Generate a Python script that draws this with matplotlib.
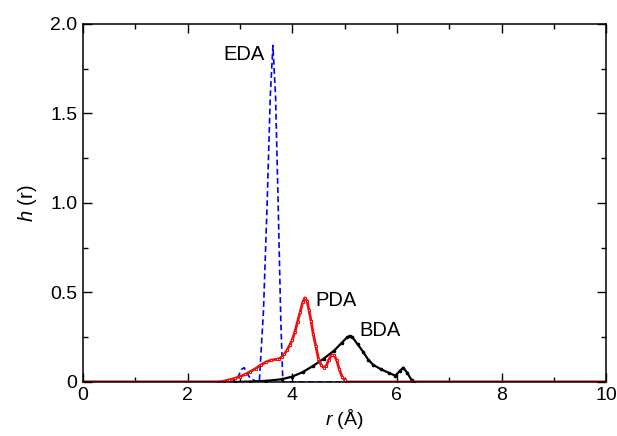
import matplotlib
matplotlib.use("Agg")
import matplotlib.pyplot as plt
from matplotlib.ticker import MultipleLocator, FixedLocator, FixedFormatter

plt.rcParams['font.family'] = ['Liberation Sans', 'DejaVu Sans']
plt.rcParams['mathtext.fontset'] = 'custom'
plt.rcParams['mathtext.it'] = 'Liberation Sans:italic'
plt.rcParams['mathtext.rm'] = 'Liberation Sans'

# h(r) curves for the three diamines
eda_r = [0.0, 2.85, 2.95, 3.03, 3.08, 3.13, 3.2, 3.3, 3.37, 3.45, 3.52, 3.58,
         3.63, 3.68, 3.73, 3.78, 3.82, 10.0]
eda_h = [0.0, 0.0, 0.02, 0.07, 0.08, 0.05, 0.02, 0.005, 0.0, 0.4, 1.0, 1.6,
         1.88, 1.6, 1.0, 0.35, 0.0, 0.0]

pda_r = [0.0, 2.6, 2.7, 2.8, 2.9, 3.0, 3.1, 3.2, 3.3, 3.4, 3.5, 3.6, 3.7, 3.75,
         3.8, 3.85, 3.9, 3.95, 4.0, 4.05, 4.1, 4.15, 4.2, 4.24, 4.28, 4.32,
         4.36, 4.4, 4.45, 4.5, 4.55, 4.6, 4.65, 4.7, 4.75, 4.8, 4.85, 4.9,
         4.95, 5.0, 5.05, 10.0]
pda_h = [0.0, 0.0, 0.005, 0.012, 0.02, 0.03, 0.042, 0.058, 0.075, 0.095, 0.112,
         0.122, 0.127, 0.13, 0.14, 0.155, 0.178, 0.205, 0.235, 0.28, 0.335,
         0.39, 0.445, 0.47, 0.455, 0.4, 0.34, 0.27, 0.2, 0.13, 0.095, 0.08,
         0.09, 0.125, 0.15, 0.15, 0.12, 0.07, 0.03, 0.01, 0.0, 0.0]

bda_r = [0.0, 2.9, 3.2, 3.5, 3.8, 4.0, 4.2, 4.4, 4.6, 4.8, 4.95, 5.05, 5.1,
         5.15, 5.25, 5.35, 5.45, 5.55, 5.7, 5.85, 5.97, 6.05, 6.12, 6.2, 6.28,
         6.32, 10.0]
bda_h = [0.0, 0.0, 0.002, 0.006, 0.015, 0.03, 0.055, 0.09, 0.13, 0.175, 0.22,
         0.25, 0.257, 0.25, 0.21, 0.17, 0.125, 0.095, 0.07, 0.05, 0.035, 0.06,
         0.08, 0.05, 0.01, 0.0, 0.0]

fig = plt.figure(figsize=(6.17, 4.36), dpi=100)
ax = fig.add_axes([0.1345, 0.124, 0.848, 0.821])

ax.plot(eda_r, eda_h, color='blue', linestyle=(0, (3.5, 2)), linewidth=1.2)
ax.plot(bda_r, bda_h, color='black', linewidth=1.6, marker='o',
        markersize=1.6)
ax.plot(pda_r, pda_h, color='#ee1111', linewidth=2.0, marker='s',
        markersize=2.0, markerfacecolor='white', markeredgewidth=0.7,
        markeredgecolor='red')

ax.text(3.48, 1.83, 'EDA', fontsize=14.5, ha='right', va='center')
ax.text(4.45, 0.455, 'PDA', fontsize=14.5, ha='left', va='center')
ax.text(5.28, 0.29, 'BDA', fontsize=14.5, ha='left', va='center')

ax.set_xlim(0, 10)
ax.set_ylim(0, 2.0)
ax.xaxis.set_major_locator(MultipleLocator(2))
ax.xaxis.set_minor_locator(MultipleLocator(1))
ax.yaxis.set_major_locator(FixedLocator([0, 0.5, 1.0, 1.5, 2.0]))
ax.yaxis.set_major_formatter(FixedFormatter(['0', '0.5', '1.0', '1.5', '2.0']))
ax.yaxis.set_minor_locator(MultipleLocator(0.25))

ax.tick_params(which='both', direction='in', top=True, right=True,
               labelsize=14, width=1.0)
ax.tick_params(which='major', length=6.5, pad=4)
ax.tick_params(which='minor', length=3.5)
for sp in ax.spines.values():
    sp.set_linewidth(1.1)

ax.set_xlabel(r'$r$ (Å)', fontsize=14, labelpad=2)
ax.set_ylabel(r'$h$ (r)', fontsize=14.5, labelpad=8)

fig.savefig('out.png', dpi=100)
